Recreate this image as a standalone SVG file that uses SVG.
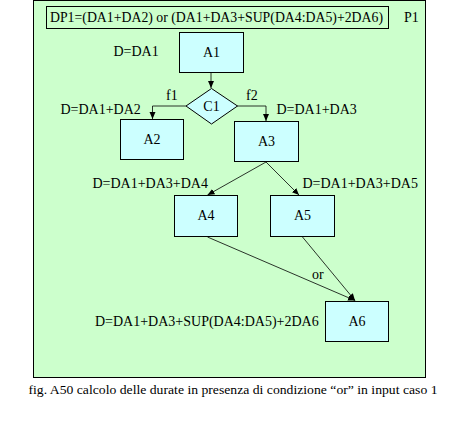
<svg xmlns="http://www.w3.org/2000/svg" width="468" height="425" viewBox="0 0 468 425" font-family="'Liberation Serif', 'Times New Roman', serif">
<defs>
<marker id="ah" markerWidth="8" markerHeight="8" refX="7" refY="4" orient="auto" markerUnits="userSpaceOnUse">
<path d="M0,1 L7,4 L0,7 Z" fill="#000"/>
</marker>
<style>
text{font-family:'Liberation Serif','Times New Roman',serif;font-size:14px;fill:#000}
.box{fill:#CCFFFF;stroke:#000;stroke-width:1}
.ln{fill:none;stroke:#000;stroke-width:0.8}
.mid{text-anchor:middle}
</style>
</defs>
<rect x="33.5" y="0.5" width="392" height="377" fill="#CCFFCC" stroke="#000" stroke-width="1"/>
<g id="formula">
<rect x="46.5" y="6.5" width="342" height="22" fill="none" stroke="#000" stroke-width="1"/>
<text x="50" y="22" textLength="333" lengthAdjust="spacingAndGlyphs">DP1=(DA1+DA2) or (DA1+DA3+SUP(DA4:DA5)+2DA6)</text>
</g>
<text x="404" y="22">P1</text>
<g id="connectors">
<path class="ln" d="M211,72 V88" marker-end="url(#ah)"/>
<path class="ln" d="M186,106 H152.5 V119" marker-end="url(#ah)"/>
<path class="ln" d="M237,106 H266 V121" marker-end="url(#ah)"/>
<path class="ln" d="M266,162 L207.5,195" marker-end="url(#ah)"/>
<path class="ln" d="M266,162 L299,195" marker-end="url(#ah)"/>
<path class="ln" d="M207.5,237 L355,300.5" marker-end="url(#ah)"/>
<path class="ln" d="M302.5,237 L355,300.5" marker-end="url(#ah)"/>
<text x="166" y="100">f1</text>
<text x="246" y="100">f2</text>
<text x="312" y="279">or</text>
</g>
<g id="A1">
<rect class="box" x="179.5" y="32.5" width="64" height="40"/>
<text class="mid" x="211.5" y="57">A1</text>
<text x="113.5" y="56">D=DA1</text>
</g>
<g id="C1">
<path class="box" d="M211.5,88.5 L237.5,106 L211.5,124 L186,106 Z"/>
<text class="mid" x="211.5" y="111">C1</text>
</g>
<g id="A2">
<rect class="box" x="120.5" y="119.5" width="63" height="40"/>
<text class="mid" x="152" y="144">A2</text>
<text x="60.5" y="114">D=DA1+DA2</text>
</g>
<g id="A3">
<rect class="box" x="234.5" y="121.5" width="64" height="40"/>
<text class="mid" x="266.5" y="146">A3</text>
<text x="276.5" y="114">D=DA1+DA3</text>
</g>
<g id="A4">
<rect class="box" x="174.5" y="195.5" width="63" height="41"/>
<text class="mid" x="206" y="220">A4</text>
<text x="92.5" y="188">D=DA1+DA3+DA4</text>
</g>
<g id="A5">
<rect class="box" x="270.5" y="195.5" width="64" height="41"/>
<text class="mid" x="302.5" y="220">A5</text>
<text x="302.5" y="188">D=DA1+DA3+DA5</text>
</g>
<g id="A6">
<rect class="box" x="325.5" y="301.5" width="63" height="40"/>
<text class="mid" x="357" y="326">A6</text>
<text x="95" y="326">D=DA1+DA3+SUP(DA4:DA5)+2DA6</text>
</g>
<text x="28.5" y="393.5" style="font-size:13px" textLength="409" lengthAdjust="spacingAndGlyphs">fig. A50 calcolo delle durate in presenza di condizione “or” in input caso 1</text>
</svg>
